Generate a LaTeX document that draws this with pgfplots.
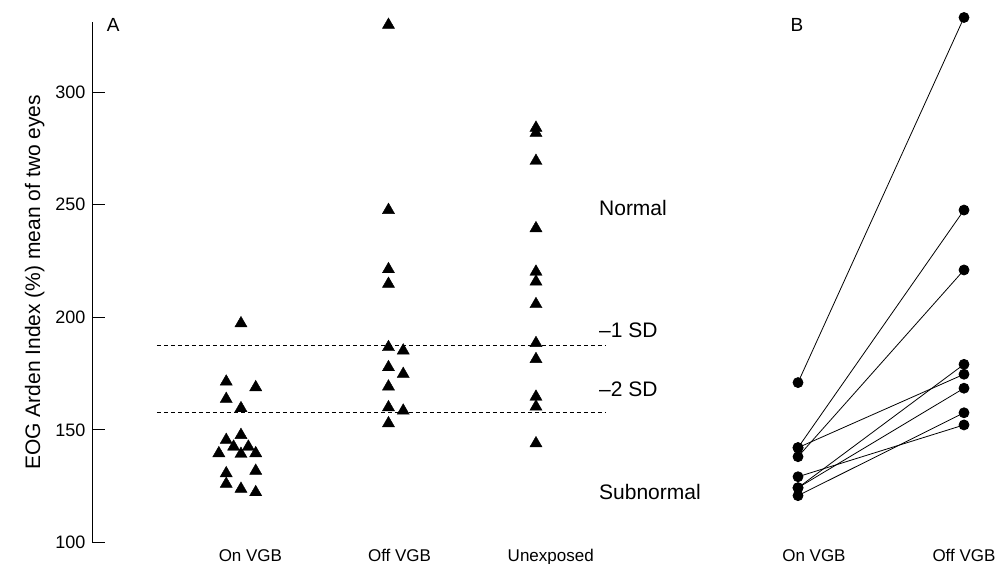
\documentclass[border=0pt]{standalone}
\usepackage{pgfplots}
\pgfplotsset{compat=1.18}
\usepackage{fontspec}
\setmainfont{Liberation Sans}
\pgfplotsset{
  every tick label/.append style={font=\fontsize{18}{21}\selectfont},
  /pgf/number format/assume math mode=true,
  pairline/.style={black, solid, line width=0.8pt, mark=*, mark size=5pt, mark options={fill=black, draw=black, solid}},
  tri/.style={only marks, mark=triangle*, mark size=7pt, black, mark options={fill=black}},
}
\begin{document}
\fontsize{19}{22}\selectfont
\begin{tikzpicture}
\useasboundingbox (0pt,0pt) rectangle (998pt,564pt);
\begin{axis}[
  at={(92pt,21.5pt)}, anchor=south west,
  scale only axis, width=590pt, height=520.5pt,
  xmin=-0.01, xmax=3.99, ymin=100, ymax=331.1,
  clip=false,
  axis x line=bottom, axis y line=left,
  x axis line style={draw=none},
  y axis line style={-, line width=1pt},
  xtick={1.064,2.075,3.10}, xticklabels={On VGB, Off VGB, Unexposed},
  xticklabel style={font=\fontsize{17}{20}\selectfont, anchor=base, yshift=-19pt},
  xtick style={draw=none},
  ytick={100,150,200,250,300},
  ytick style={line width=1pt, black},
  tick align=inside, major tick length=13pt,
  every axis y label/.style={at={(axis description cs:-0.097,0.5)}, rotate=90, anchor=center, font=\fontsize{21}{24}\selectfont},
  ylabel={EOG Arden Index (\%) mean of two eyes},
]
\addplot[tri] coordinates {
(1,197.3) (0.9,171.4) (1.1,168.9) (0.9,163.7) (1,159.6) (1,147.7) (0.9,145.5)
(0.95,142.5) (1.05,142.5) (0.85,139.6) (1,139.3) (1.1,139.6) (0.9,130.7)
(1.1,131.8) (0.9,126.0) (1,123.8) (1.1,122.3)
};
\addplot[tri] coordinates {
(2,329.8) (2,247.6) (2,221.3) (2,214.8) (2,186.7) (2.1,185.2) (2,177.8)
(2.1,174.8) (2,169.2) (2,160.0) (2.1,158.5) (2,152.9)
};
\addplot[tri] coordinates {
(3,284.1) (3,281.8) (3,269.4) (3,239.5) (3,220.2) (3,215.8) (3,205.8)
(3,188.5) (3,181.4) (3,164.7) (3,160.3) (3,144.0)
};
\addplot[black, line width=0.8pt, dash pattern=on 4pt off 3pt] coordinates {(0.43,187.7) (3.47,187.7)};
\addplot[black, line width=0.8pt, dash pattern=on 4pt off 3pt] coordinates {(0.43,157.9) (3.47,157.9)};
\begin{scope}[every node/.style={anchor=base west, inner sep=0pt, font=\fontsize{21}{24}\selectfont}]
\node at (axis cs:3.427,245.0) {Normal};
\node at (axis cs:3.427,191.0) {--1 SD};
\node at (axis cs:3.427,164.8) {--2 SD};
\node at (axis cs:3.427,119.0) {Subnormal};
\end{scope}
\node[anchor=west, inner sep=0pt] at (axis cs:0.09,329.8) {A};
\end{axis}
\begin{axis}[
  at={(740pt,21.5pt)}, anchor=south west,
  scale only axis, width=258pt, height=520.5pt,
  xmin=0.6506, xmax=2.2048, ymin=100, ymax=331.1,
  clip=false,
  axis x line=bottom, axis y line=left,
  axis line style={draw=none},
  ytick=\empty,
  xtick={1.096,2}, xticklabels={On VGB, Off VGB},
  xtick style={draw=none}, major tick length=0pt,
  xticklabel style={font=\fontsize{17}{20}\selectfont, anchor=base, yshift=-19pt},
]
\addplot[pairline] coordinates {(1,171.0) (2,333.1)};
\addplot[pairline] coordinates {(1,142.1) (2,247.6)};
\addplot[pairline] coordinates {(1,138.1) (2,221.0)};
\addplot[pairline] coordinates {(1,142.1) (2,174.7)};
\addplot[pairline] coordinates {(1,124.3) (2,179.1)};
\addplot[pairline] coordinates {(1,124.3) (2,168.5)};
\addplot[pairline] coordinates {(1,120.8) (2,157.6)};
\addplot[pairline] coordinates {(1,129.2) (2,152.2)};
\node[anchor=west, inner sep=0pt] at (axis cs:0.955,329.8) {B};
\end{axis}
\end{tikzpicture}
\end{document}
